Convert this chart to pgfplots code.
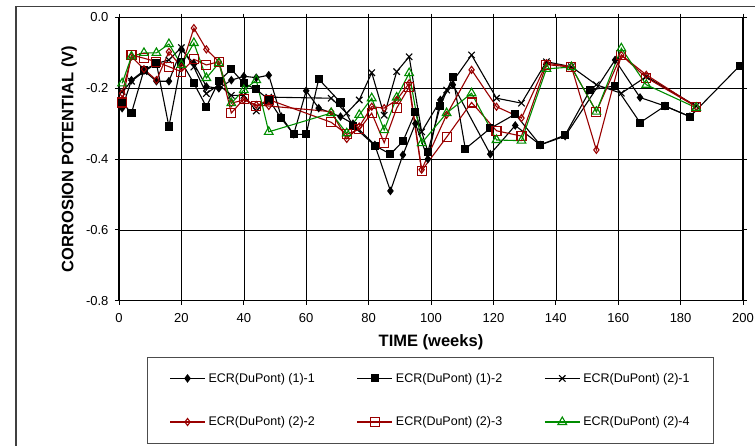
\documentclass[border=0pt]{standalone}
\usepackage{fontspec}
\setmainfont{Liberation Sans}
\usepackage{pgfplots}
\pgfplotsset{compat=1.18}
\definecolor{dred}{RGB}{153,0,0}
\definecolor{dgreen}{RGB}{0,140,0}
\begin{document}
\begin{tikzpicture}
\useasboundingbox (0pt,0pt) rectangle (755pt,446pt);
\draw[line width=1.5pt, black!75] (16pt,-20pt) -- (16pt,439.3pt) -- (780pt,439.3pt);
\begin{axis}[
  at={(119pt,145.3pt)}, anchor=south west,
  scale only axis, width=624pt, height=283.2pt,
  xmin=0, xmax=200, ymin=-0.8, ymax=0,
  xtick={0,20,...,200}, ytick={-0.8,-0.6,-0.4,-0.2,0},
  grid=major, major grid style={black, line width=0.6pt},
  axis line style={line width=1.5pt},
  tick align=outside, major tick length=4pt,
  tick style={black, line width=0.8pt},
  ticklabel style={font=\fontsize{13}{15}\selectfont},
  xticklabel style={yshift=-5pt},
  yticklabel style={xshift=-3pt},
  /pgf/number format/assume math mode=true,
  yticklabel style={/pgf/number format/.cd, fixed, fixed zerofill, precision=1},
  xlabel={\bfseries TIME (weeks)},
  ylabel={\bfseries CORROSION POTENTIAL (V)},
  label style={font=\fontsize{16.5}{19}\selectfont},
  xlabel style={at={(axis description cs:0.5,-0.145)}, anchor=center},
  ylabel style={at={(axis description cs:-0.080,0.5)}, anchor=center},
  legend columns=3,
  legend cell align=left,
  legend style={at={(axis description cs:0.045,-0.198)}, anchor=north west,
    draw=black!70, line width=0.8pt, font=\fontsize{12.5}{15}\selectfont,
    inner xsep=22pt, inner ysep=14pt, row sep=29pt,
    /tikz/every even column/.append style={column sep=40pt},
    /tikz/every odd column/.append style={column sep=1pt}},
  legend image code/.code={\draw[mark repeat=2,mark phase=2,#1] plot coordinates {(0pt,0pt) (17.5pt,0pt) (35pt,0pt)};},
  every axis plot/.append style={line width=1.1pt},
]
% (1)-1
\addplot[black, mark=diamond*, mark size=3.5pt, mark options={solid, fill=black}] coordinates {
(1,-0.256) (4,-0.177) (8,-0.150) (12,-0.180) (16,-0.180) (20,-0.090) (24,-0.130)
(28,-0.195) (32,-0.200) (36,-0.177) (40,-0.166) (44,-0.170) (48,-0.163) (52,-0.280)
(56,-0.330) (60,-0.207) (64,-0.256) (71,-0.280) (75,-0.300) (82,-0.360) (87,-0.490)
(91,-0.388) (95,-0.300) (99,-0.400) (103,-0.233) (107,-0.190) (119,-0.386) (127,-0.305)
(135,-0.360) (143,-0.335) (159,-0.120) (167,-0.226) (175,-0.250) (183,-0.280)};
\addlegendentry{ECR(DuPont) (1)-1}
% (1)-2
\addplot[black, mark=square*, mark size=3.5pt, mark options={solid, fill=black}] coordinates {
(1,-0.240) (4,-0.270) (8,-0.148) (12,-0.130) (16,-0.308) (20,-0.125) (24,-0.186)
(28,-0.252) (32,-0.180) (36,-0.146) (40,-0.186) (44,-0.203) (48,-0.232) (52,-0.285)
(56,-0.330) (60,-0.330) (64,-0.174) (71,-0.240) (75,-0.306) (82,-0.362) (87,-0.386)
(91,-0.350) (95,-0.267) (99,-0.379) (103,-0.250) (107,-0.167) (111,-0.371) (119,-0.313)
(127,-0.273) (135,-0.360) (143,-0.332) (151,-0.205) (159,-0.193) (167,-0.297)
(175,-0.250) (183,-0.280) (199,-0.136)};
\addlegendentry{ECR(DuPont) (1)-2}
% (2)-1
\addplot[black, mark=x, mark size=4.5pt, mark options={solid}] coordinates {
(1,-0.210) (4,-0.180) (8,-0.153) (12,-0.130) (16,-0.120) (20,-0.085) (24,-0.140)
(28,-0.215) (32,-0.190) (36,-0.220) (40,-0.220) (44,-0.264) (48,-0.225) (68,-0.228)
(73,-0.270) (77,-0.233) (81,-0.156) (85,-0.276) (89,-0.153) (93,-0.111) (97,-0.323)
(105,-0.205) (113,-0.106) (121,-0.228) (129,-0.242) (137,-0.125) (145,-0.139)
(153,-0.190) (161,-0.214) (169,-0.167) (185,-0.250)};
\addlegendentry{ECR(DuPont) (2)-1}
% (2)-2
\addplot[dred, mark=diamond, mark size=3.5pt, mark options={solid}] coordinates {
(1,-0.214) (4,-0.110) (8,-0.146) (12,-0.177) (16,-0.097) (20,-0.140) (24,-0.030)
(28,-0.090) (32,-0.125) (36,-0.242) (40,-0.233) (44,-0.247) (48,-0.250) (68,-0.266)
(73,-0.343) (77,-0.308) (81,-0.252) (85,-0.256) (89,-0.233) (93,-0.186) (97,-0.430)
(105,-0.275) (113,-0.148) (121,-0.252) (129,-0.284) (137,-0.129) (145,-0.139)
(153,-0.374) (161,-0.106) (169,-0.162) (185,-0.252)};
\addlegendentry{ECR(DuPont) (2)-2}
% (2)-3
\addplot[dred, mark=square, mark size=4.5pt, mark options={solid}] coordinates {
(1,-0.240) (4,-0.106) (8,-0.115) (12,-0.125) (16,-0.139) (20,-0.153) (24,-0.118)
(28,-0.134) (32,-0.125) (36,-0.270) (40,-0.230) (44,-0.250) (48,-0.232) (68,-0.296)
(73,-0.330) (77,-0.316) (81,-0.270) (85,-0.354) (89,-0.256) (93,-0.196) (97,-0.433)
(105,-0.338) (113,-0.240) (121,-0.320) (129,-0.335) (137,-0.133) (145,-0.140)
(153,-0.266) (161,-0.106) (169,-0.170) (185,-0.252)};
\addlegendentry{ECR(DuPont) (2)-3}
% (2)-4
\addplot[dgreen, mark=triangle, mark size=5pt, mark options={solid}] coordinates {
(1,-0.186) (4,-0.110) (8,-0.100) (12,-0.100) (16,-0.075) (20,-0.134) (24,-0.072)
(28,-0.171) (32,-0.129) (36,-0.242) (40,-0.205) (44,-0.177) (48,-0.323) (68,-0.270)
(73,-0.327) (77,-0.275) (81,-0.228) (85,-0.318) (89,-0.226) (93,-0.157) (97,-0.355)
(105,-0.270) (113,-0.214) (121,-0.346) (129,-0.348) (137,-0.145) (145,-0.140)
(153,-0.266) (161,-0.087) (169,-0.190) (185,-0.255)};
\addlegendentry{ECR(DuPont) (2)-4}
\end{axis}
\end{tikzpicture}
\end{document}
